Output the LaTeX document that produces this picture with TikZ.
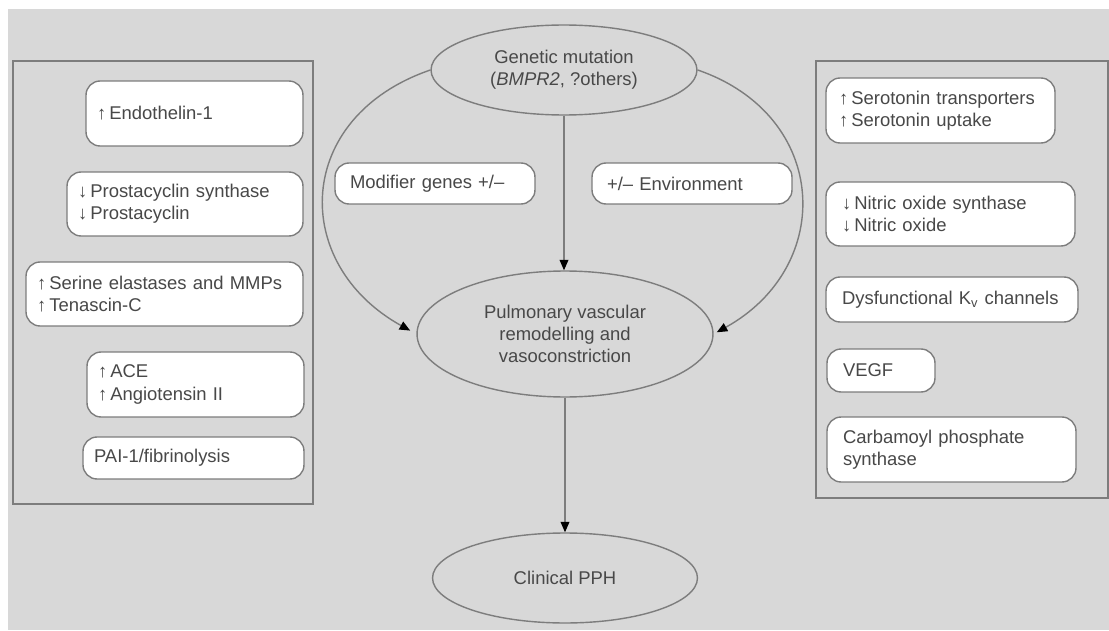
\documentclass[tikz,border=0pt]{standalone}
\usepackage{fontspec}
\setmainfont{Liberation Sans}
\usepackage{tikz}
\usetikzlibrary{shapes, arrows.meta, positioning}
\definecolor{bggray}{RGB}{216,216,216}
\definecolor{edgegray}{RGB}{125,125,125}
\definecolor{txtgray}{RGB}{72,72,72}
\hyphenpenalty=10000

\begin{document}
\begin{tikzpicture}[
        x=0.02cm, y=0.02cm,
        every node/.style={font=\fontsize{10.5pt}{12.6pt}\selectfont, text=txtgray},
        panel/.style={rectangle, draw=edgegray, line width=0.8pt},
        item/.style={rectangle, rounded corners=8pt, draw=edgegray, fill=white, line width=0.8pt, align=left, inner ysep=0pt},
        oval/.style={ellipse, draw=edgegray, line width=0.8pt, align=center, inner sep=0pt},
        link/.style={draw=edgegray, line width=0.8pt, -{Triangle[length=6pt, width=5pt, color=black]}}
    ]
        % Background
        \fill[white] (0,0) rectangle (1109,630);
        \fill[bggray] (8,0) rectangle (1109,621);

        % Panels
        \node[panel, minimum width=6.00cm, minimum height=8.86cm] (leftpanel) at (163,347.5) {};
        \node[panel, minimum width=5.84cm, minimum height=8.74cm] (rightpanel) at (962,350.5) {};

        % Left items
        \node[item, inner xsep=0.22cm, text width=3.90cm, minimum height=1.30cm] (endothelin) at (194.5,516.5) {↑\,Endothelin-1};
        \node[item, inner xsep=0.22cm, text width=4.28cm, minimum height=1.28cm] (prostacyclin) at (185,426) {↓\,Prostacyclin synthase\\↓\,Prostacyclin};
        \node[item, inner xsep=0.22cm, text width=5.10cm, minimum height=1.28cm] (elastase) at (164.5,336) {↑\,Serine elastases and MMPs\\↑\,Tenascin-C};
        \node[item, inner xsep=0.22cm, text width=3.90cm, minimum height=1.30cm] (ace) at (195.5,245.5) {↑\,ACE\\↑\,Angiotensin II};
        \node[item, inner xsep=0.22cm, text width=3.98cm, minimum height=0.84cm] (pai) at (193.5,172) {PAI-1/fibrinolysis};

        % Right items
        \node[item, inner xsep=0.26cm, text width=4.06cm, minimum height=1.30cm] (serotonin) at (940.5,519.5) {↑\,Serotonin transporters\\↑\,Serotonin uptake};
        \node[item, inner xsep=0.32cm, text width=4.34cm, minimum height=1.28cm] (nos) at (950.5,416) {↓\,Nitric oxide synthase\\↓\,Nitric oxide};
        \node[item, inner xsep=0.32cm, text width=4.40cm, minimum height=0.90cm] (kv) at (952,330.5) {Dysfunctional K\textsubscript{v} channels};
        \node[item, inner xsep=0.32cm, text width=1.52cm, minimum height=0.86cm] (vegf) at (881,259.5) {VEGF};
        \node[item, inner xsep=0.32cm, text width=4.34cm, minimum height=1.30cm] (carbamoyl) at (951.5,180.5) {Carbamoyl phosphate\\synthase};

        % Centre
        \node[oval, minimum width=5.32cm, minimum height=1.80cm] (mutation) at (564,560) {Genetic mutation\\(\textit{BMPR2}, ?others)};
        \node[item, inner xsep=0.30cm, text width=3.40cm, minimum height=0.82cm] (modifier) at (435,446.5) {Modifier genes +/–};
        \node[item, inner xsep=0.30cm, text width=3.40cm, minimum height=0.82cm] (environment) at (692,446.5) {+/– Environment};
        \node[oval, minimum width=5.92cm, minimum height=2.52cm] (remodelling) at (565,296) {Pulmonary vascular\\remodelling and\\vasoconstriction};
        \node[oval, minimum width=5.30cm, minimum height=1.80cm] (pph) at (565,52) {Clinical PPH};

        % Arrows
        \draw[link] (mutation.south) -- (mutation.south |- remodelling.north);
        \draw[link, shorten >=4pt] (mutation.west) to[out=199, in=151, looseness=1.4] (remodelling.west);
        \draw[link, shorten >=2pt] (mutation.east) to[out=-19, in=29, looseness=1.35] (remodelling.east);
        \draw[link] (remodelling.south) -- (pph.north);
    \end{tikzpicture}
\end{document}
